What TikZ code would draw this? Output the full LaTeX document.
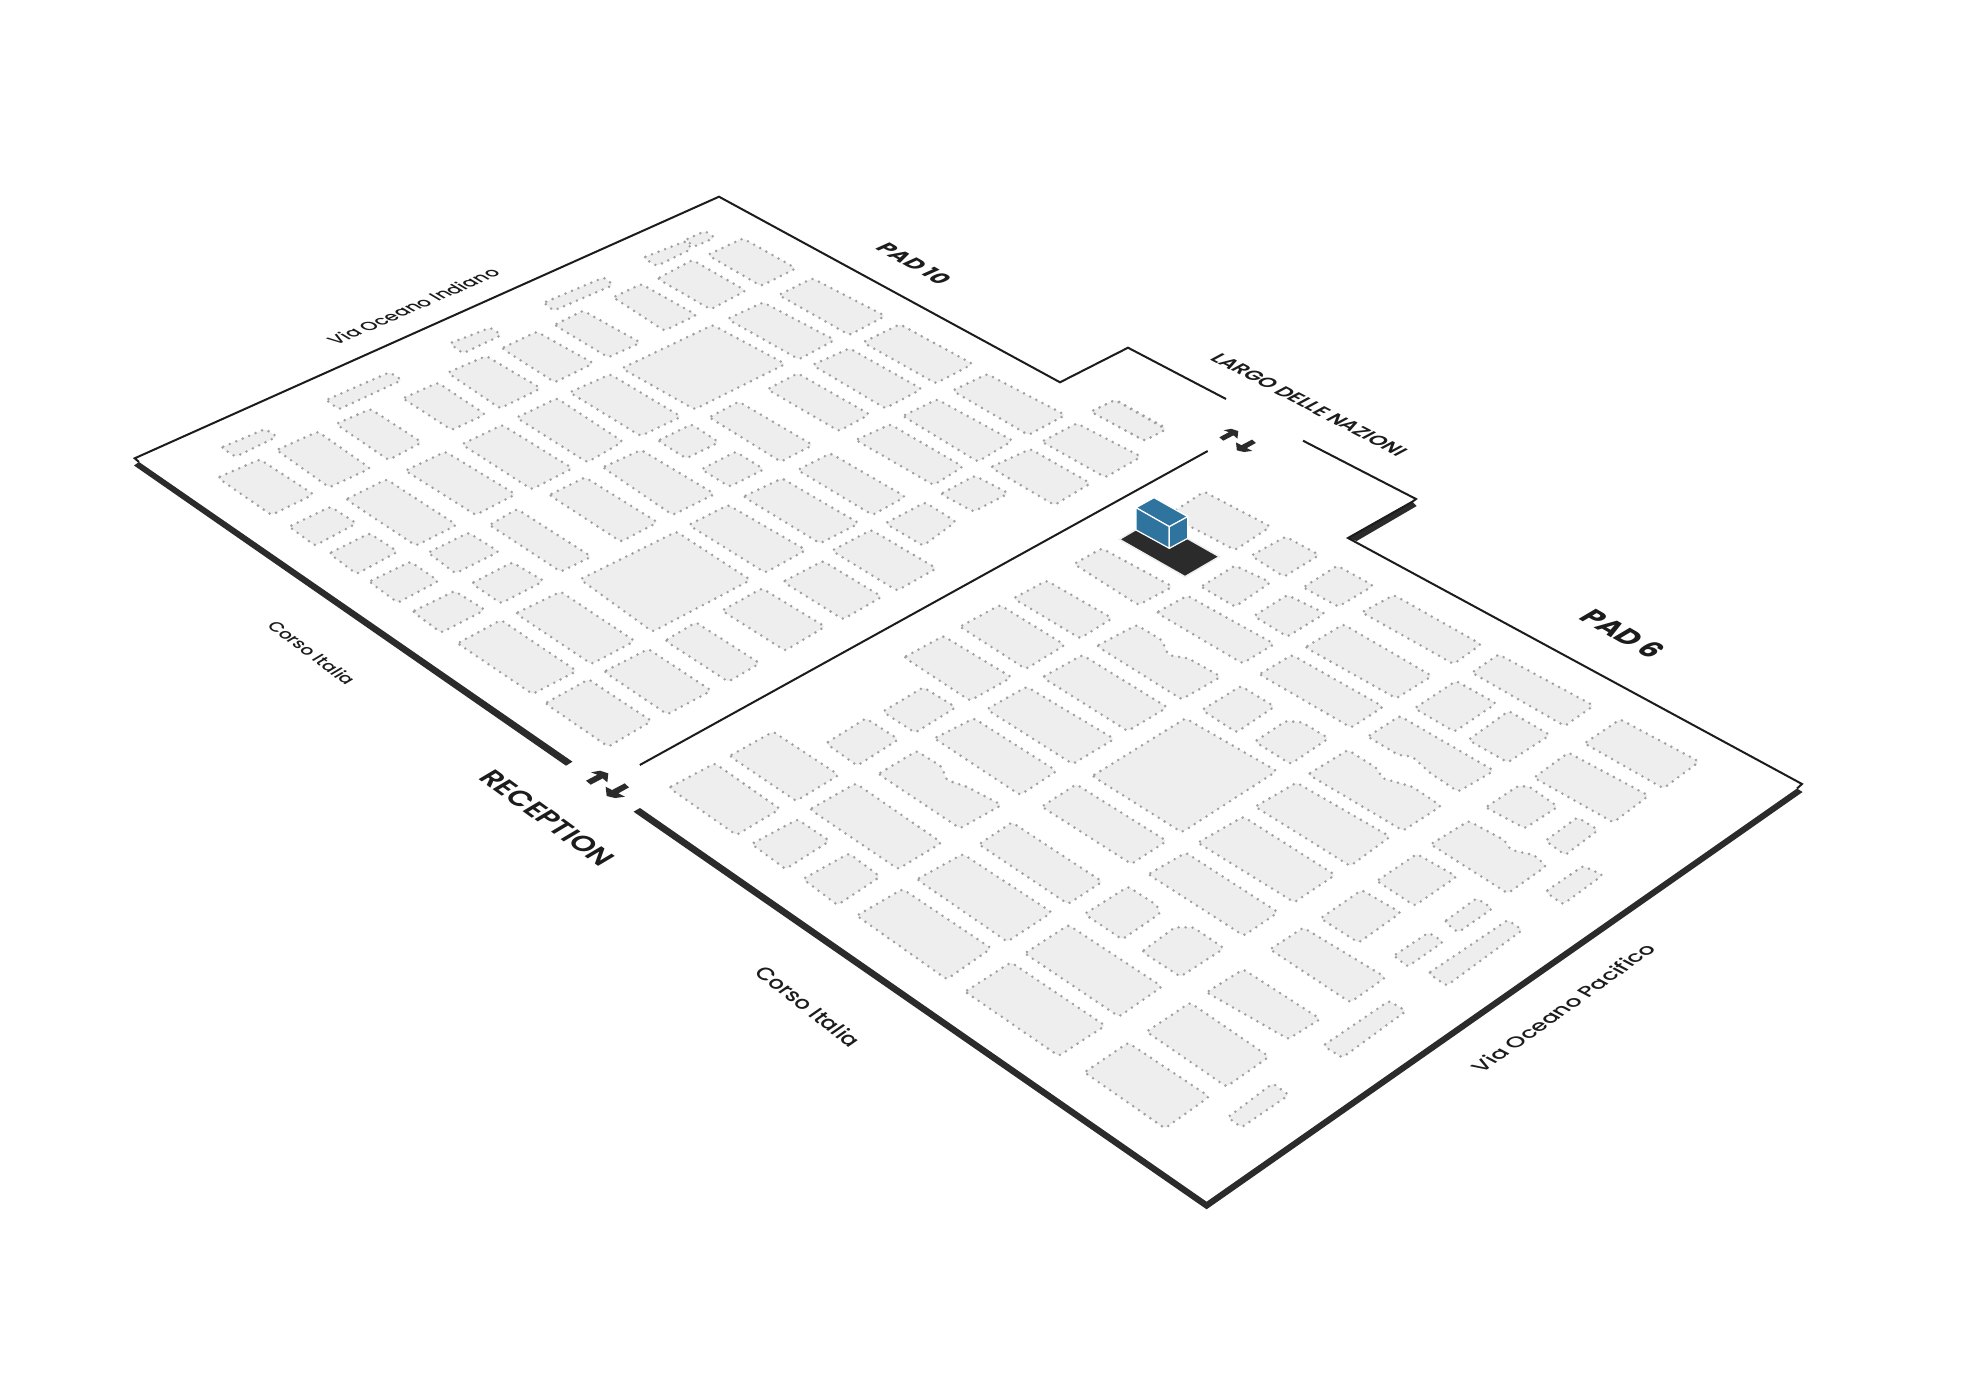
\documentclass[tikz,border=0pt]{standalone}
\usepackage{fontspec}
\usepackage{graphicx}
\setmainfont{Poppins}[UprightFont=* Medium,BoldFont=* Bold]
\newfontfamily\semif{Poppins}[UprightFont=* SemiBold]
\definecolor{ink}{HTML}{1C1C1C}
\definecolor{band}{HTML}{2B2B2B}
\definecolor{blockfill}{HTML}{EEEEEE}
\definecolor{dots}{HTML}{A0A0A0}
\definecolor{boxblue}{HTML}{2F739F}
\tikzset{
  za/.style={x=.42092pt,y=-.33333pt},
  zb/.style={x=.45918pt,y=-.33333pt},
  zc/.style={x=.33333pt,y=-.33333pt},
  zd/.style={x=.38265pt,y=-.33333pt},
  arrowunit/.style={x=#1pt,y=-#1pt},
  blockst/.style={fill=blockfill,draw=dots,line width=2.8pt,line cap=round,line join=round,dash pattern=on 0pt off 7pt,rounded corners=2.5pt},
  outline/.style={draw=ink,line width=2pt,line join=miter},
  bandst/.style={fill=band},
  arrowst/.style={fill=band},
  boxst/.style={fill=boxblue,draw=white,line width=1.2pt,line join=round},
  basest/.style={fill=band,draw=blockfill,line width=1.5pt},
  lbl/.style={anchor=base,inner sep=0pt,outer sep=0pt,text=ink},
}
\def\B(#1)(#2)(#3)(#4){\path[blockst] (#1)--(#2)--(#3)--(#4)--cycle;}
\newcommand{\updown}[2]{%
  \begin{scope}[shift={(#1)},arrowunit=#2]
    \path[arrowst] (0,0)--(34,-18)--(15,-25)--(42,-30)--(67,-22)--(64,5)--(50,-7)--(14,12)--cycle;
    \path[arrowst] (116,8)--(129,20)--(97,38)--(117,48)--(87,52)--(62,46)--(59,18)--(78,28)--cycle;
  \end{scope}}
\begin{document}
\begin{tikzpicture}[x=1pt,y=-1pt]
\useasboundingbox (0,0) rectangle (1978,1399);
\fill[white] (0,0) rectangle (1978,1399);

% ---------- PAD 10 blocks
\begin{scope}[shift={(120,180)},za]
\B(1243,233)(1345,183)(1358,207)(1275,258)
\B(1343,180)(1390,153)(1413,173)(1365,200)
\B(1277,296)(1360,240)(1487,332)(1403,388)
\B(1172,352)(1238,312)(1370,405)(1293,452)
\B(1007,368)(1150,292)(1172,315)(1030,392)
\B(1032,435)(1100,392)(1237,488)(1160,532)
\B(907,505)(990,455)(1125,550)(1033,607)
\B(783,490)(880,443)(907,465)(815,520)
\B(778,578)(870,528)(1000,625)(903,685)
\B(672,655)(755,608)(868,703)(788,750)
\B(490,660)(640,577)(670,600)(520,688)
\B(513,732)(595,687)(717,787)(638,840)
\B(240,803)(345,747)(373,770)(275,830)
\B(372,810)(470,755)(595,865)(497,922)
\B(232,893)(332,838)(460,943)(360,1005)
\B(537,958)(633,898)(800,1035)(703,1097)
\B(678,872)(773,815)(940,943)(845,1005)
\B(812,793)(908,735)(1075,865)(978,928)
\B(942,713)(1038,655)(1195,785)(1110,847)
\B(1068,637)(1165,583)(1333,710)(1237,768)
\B(1192,565)(1408,435)(1581,552)(1365,688)
\B(1278,782)(1358,733)(1423,787)(1345,835)
\B(1147,862)(1238,810)(1413,942)(1313,1005)
\B(1020,945)(1105,892)(1277,1027)(1190,1085)
\B(878,1035)(943,987)(1120,1130)(1047,1175)
\B(402,1040)(500,980)(562,1030)(463,1097)
\B(497,1120)(593,1060)(660,1115)(562,1182)
\B(732,1118)(828,1058)(900,1115)(797,1180)
\B(592,1205)(690,1145)(757,1203)(660,1268)
\B(835,1210)(932,1147)(1007,1203)(905,1270)
\end{scope}
\begin{scope}[shift={(240,480)},za]
\B(410,395)(510,333)(582,390)(478,458)
\B(655,400)(762,335)(938,483)(835,552)
\B(517,490)(620,420)(800,573)(695,642)
\B(865,575)(970,507)(1120,632)(1015,703)
\B(725,670)(828,598)(978,723)(875,800)
\B(808,298)(1037,155)(1213,300)(980,455)
\B(1010,482)(1083,427)(1235,550)(1160,605)
\B(1145,392)(1240,325)(1390,440)(1295,512)
\end{scope}
\begin{scope}[shift={(660,180)},za]
\B(113,225)(197,175)(323,265)(240,318)
\B(282,345)(362,295)(535,408)(450,465)
\B(160,417)(245,367)(415,480)(330,538)
\B(482,487)(570,433)(743,552)(655,610)
\B(362,555)(450,505)(622,627)(535,685)
\B(255,628)(327,580)(498,703)(425,753)
\B(695,632)(777,582)(963,705)(875,765)
\B(577,708)(658,658)(838,782)(755,845)
\B(465,780)(547,733)(720,860)(650,915)
\B(117,712)(187,665)(363,795)(287,845)
\B(98,868)(180,815)(247,868)(165,920)
\B(327,870)(405,820)(583,950)(505,1005)
\B(198,950)(290,895)(473,1030)(380,1090)
\B(68,1035)(162,975)(347,1110)(250,1178)
\B(785,862)(880,807)(1023,910)(937,975)
\B(907,785)(990,730)(1143,830)(1058,892)
\B(1025,695)(1083,660)(1203,745)(1150,782)
\B(667,942)(748,887)(828,940)(745,995)
\B(535,1030)(630,967)(703,1025)(625,1097)
\B(408,1112)(502,1050)(657,1165)(563,1232)
\B(292,1205)(387,1143)(527,1250)(435,1318)
\end{scope}

% ---------- PAD 6 blocks
\begin{scope}[shift={(1080,380)},zc]
\B(265,405)(372,335)(572,440)(465,510)
\B(33,95)(105,60)(258,148)(193,182)
\B(513,527)(617,470)(718,525)(612,590)
\B(363,620)(465,557)(572,607)(465,680)
\B(670,622)(772,557)(880,617)(775,680)
\B(-18,552)(65,505)(278,620)(175,675)
\end{scope}
\begin{scope}[shift={(880,570)},zc]
\B(400,85)(500,32)(697,145)(600,205)
\B(240,170)(360,105)(555,225)(437,297)
\B(72,262)(190,198)(395,322)(270,392)
\B(487,322)(607,255)(862,412)(743,483)
\B(320,418)(440,350)(703,507)(578,582)
\B(8,425)(130,352)(228,412)(105,488)
\B(163,505)(282,445)(530,603)(420,675)
\path[blockst] (650,228)--(770,165)--(845,210)--(865,255)--(925,265)--(1023,320)--(905,388)--cycle;
\path[blockst] (-5,612)--(110,543)--(185,590)--(200,630)--(260,650)--(365,705)--(240,775)--cycle;
\end{scope}
\begin{scope}[shift={(1100,560)},zb]
\B(123,158)(190,107)(380,252)(310,310)
\B(335,168)(408,105)(490,160)(408,230)
\B(570,157)(640,105)(830,253)(770,312)
\B(447,262)(530,193)(723,348)(645,415)
\B(347,343)(418,285)(617,440)(547,503)
\B(222,450)(307,378)(380,440)(297,517)
\B(810,338)(868,283)(1075,437)(1012,498)
\B(685,445)(775,363)(863,430)(772,515)
\B(802,540)(890,453)(980,525)(888,607)
\path[blockst] (583,530)--(653,468)--(858,632)--(780,695)--(720,640)--(680,590)--(650,585)--cycle;
\path[blockst] (337,545)--(405,483)--(440,487)--(498,535)--(415,612)--cycle;
\path[blockst] (453,643)--(540,570)--(603,625)--(615,655)--(680,680)--(743,738)--(660,812)--cycle;
\B(338,740)(428,668)(632,830)(545,918)
\B(213,848)(312,770)(512,945)(423,1027)
\B(105,943)(187,878)(388,1057)(313,1127)
\B(603,963)(690,882)(777,950)(685,1037)
\path[blockst] (720,853)--(803,783)--(880,840)--(895,870)--(945,885)--(972,918)--(888,1000)--cycle;
\path[blockst] (840,742)--(910,678)--(935,680)--(997,740)--(925,805)--cycle;
\B(970,842)(1040,772)(1085,810)(1013,885)
\B(945,653)(1020,578)(1195,707)(1118,787)
\B(1055,550)(1133,478)(1305,605)(1227,685)
\B(970,995)(1052,918)(1095,945)(1008,1033)
\B(480,1075)(570,990)(655,1058)(563,1148)
\B(750,1085)(820,1015)(855,1045)(780,1117)
\B(640,1187)(715,1118)(748,1145)(670,1220)
\B(715,1240)(888,1080)(920,1110)(755,1277)
\B(370,1168)(443,1103)(622,1252)(545,1327)
\B(232,1297)(312,1228)(480,1377)(410,1437)
\end{scope}
\begin{scope}[shift={(640,700)},zb]
\B(63,263)(163,190)(305,327)(210,405)
\B(195,168)(290,95)(433,225)(340,303)
\B(405,130)(492,55)(563,118)(473,197)
\B(370,328)(470,250)(657,428)(562,507)
\B(243,432)(343,358)(413,423)(317,507)
\B(355,537)(455,460)(523,530)(430,615)
\B(603,538)(703,462)(897,637)(800,725)
\B(738,433)(810,367)(1007,545)(932,612)
\B(875,320)(950,253)(1147,423)(1070,492)
\B(472,647)(572,567)(765,745)(668,838)
\path[blockst] (968,642)--(1063,560)--(1125,615)--(1133,640)--(1050,718)--cycle;
\B(838,760)(933,675)(1137,860)(1043,950)
\B(708,875)(808,787)(1013,977)(912,1068)
\path[blockst] (1093,755)--(1165,682)--(1205,682)--(1272,745)--(1177,830)--cycle;
\B(985,228)(1188,55)(1387,213)(1180,397)
\B(1103,995)(1198,908)(1370,1070)(1277,1160)
\B(968,1117)(1063,1028)(1240,1190)(1143,1285)
\B(1280,1252)(1378,1150)(1413,1185)(1310,1282)
\end{scope}
\begin{scope}[shift={(1100,860)},zd]
\B(583,557)(755,423)(800,453)(633,593)
\end{scope}

% ---------- outline and bands
\coordinate (c1) at (134.7,458.3);
\coordinate (c2) at (719,196.7);
\coordinate (c3) at (1060,382.3);
\coordinate (c4) at (1128,347.7);
\coordinate (c5) at (1226,399);
\coordinate (c6) at (1303,440.7);
\coordinate (c7) at (1416,499);
\coordinate (c8) at (1348,538);
\coordinate (c9) at (1802,784);
\coordinate (c10) at (639.8,765);
\coordinate (c11) at (1207.7,451);
\path[bandst] (134,465.5)--(139,462)--(572.5,761.7)--(566,765.7)--cycle;
\path[bandst] (1797,788.5)--(1802.6,792)--(1206.6,1209.3)--(633.5,811.7)--(640,808)--(1206.6,1201.7)--cycle;
\path[bandst] (1416.7,506)--(1412.3,501.7)--(1348,538)--(1356.7,541)--cycle;
\draw[outline] (139,462)--(c1)--(c2)--(c3)--(c4)--(c5);
\draw[outline] (c6)--(c7)--(1412.3,501.7)--(c8)--(c9)--(1797,788.5);
\draw[outline] (c10)--(c11);

% ---------- building
\begin{scope}[shift={(1080,380)},zc]
\path[basest] (118,478)--(221,418)--(418,530)--(315,590)--cycle;
\path[boxst] (168,383)--(222,353)--(323,410)--(268,440)--cycle;
\path[boxst] (168,383)--(268,440)--(268,505)--(168,450)--cycle;
\path[boxst] (268,440)--(323,410)--(323,475)--(268,505)--cycle;
\end{scope}

% ---------- entry arrows
\updown{586,780.7}{.3333}
\updown{1219.3,437.3}{.283}

% ---------- labels (skewed along the plan's axes)
\node[lbl,cm={.918,.397,-.857,.515,(0,0)}] (viaind) at (419,310) {\resizebox{180pt}{!}{Via Oceano Indiano}};
\node[lbl,cm={.87,-.49,.91,.41,(0,0)}] (pad10) at (907,267) {\resizebox{74pt}{!}{\bfseries PAD 10}};
\node[lbl,cm={.887,-.462,.88,.47,(0,0)}] (largo) at (1303,408) {\resizebox{212pt}{!}{\semif LARGO DELLE NAZIONI}};
\node[lbl,cm={.81,-.585,.86,.51,(0,0)}] (recep) at (539,823) {\resizebox{152pt}{!}{\semif RECEPTION}};
\node[lbl,cm={.80,-.595,.86,.51,(0,0)}] (corso1) at (306,656) {\resizebox{100pt}{!}{Corso Italia}};
\node[lbl,cm={.788,-.616,.82,.57,(0,0)}] (corso2) at (802,1011) {\resizebox{122pt}{!}{Corso Italia}};
\node[lbl,cm={.816,.579,-.85,.45,(0,0)}] (viapac) at (1570,1011.5) {\resizebox{214pt}{!}{Via Oceano Pacifico}};
\node[lbl,cm={.868,-.496,.86,.51,(0,0)}] (pad6) at (1614,639) {\resizebox{84pt}{!}{\bfseries PAD 6}};
\end{tikzpicture}
\end{document}
